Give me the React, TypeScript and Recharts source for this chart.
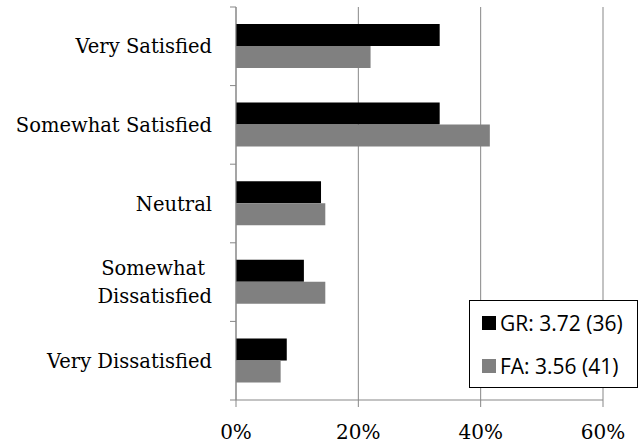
import React from 'react';
import { BarChart, Bar, XAxis, YAxis, CartesianGrid, Legend } from 'recharts';

const CATEGORIES = ['Very Satisfied', 'Somewhat Satisfied', 'Neutral', 'Somewhat\nDissatisfied', 'Very Dissatisfied'];
const GR_VALUES = [33.3, 33.3, 13.9, 11.1, 8.3];
const FA_VALUES = [22.0, 41.5, 14.6, 14.6, 7.3];
const X_TICKS = [0, 20, 40, 60];
const SERIES = [
  { key: 'gr', name: 'GR: 3.72 (36)', color: '#000000' },
  { key: 'fa', name: 'FA: 3.56 (41)', color: '#808080' },
];

const chartData = CATEGORIES.map((name, i) => ({ name, gr: GR_VALUES[i], fa: FA_VALUES[i] }));

const AXIS_COLOR = '#878787';
const Y_TICK_SIZE = 6;
const Y_TICK_MARGIN = 18;
const LABEL_FONT = '"DejaVu Serif", serif';

// category label + Excel-style tick marks between categories
const CategoryTick = (props: any) => {
  const { x, y, payload, index } = props;
  const axisX = x + Y_TICK_SIZE + Y_TICK_MARGIN;
  const half = payload.offset || 0;
  const lines = String(payload.value).split('\n');
  const isLast = index === CATEGORIES.length - 1;
  return (
    <g>
      <line x1={axisX - Y_TICK_SIZE} x2={axisX} y1={y - half} y2={y - half} stroke={AXIS_COLOR} />
      {isLast && <line x1={axisX - Y_TICK_SIZE} x2={axisX} y1={y + half} y2={y + half} stroke={AXIS_COLOR} />}
      <text x={x} y={y} textAnchor="end" fontFamily={LABEL_FONT} fontSize={19.5} fill="#000">
        {lines.length === 1 ? (
          <tspan x={x} dy={7}>{lines[0]}</tspan>
        ) : (
          lines.map((l, i) => (
            <tspan key={i} x={i === 0 ? x - 7 : x} dy={i === 0 ? -7 : 28}>{l}</tspan>
          ))
        )}
      </text>
    </g>
  );
};

// boxed legend, drawn in series order
const LegendBox = () => (
  <div
    style={{
      width: 169,
      height: 88,
      boxSizing: 'border-box',
      border: '1.5px solid #000',
      background: '#fff',
      fontFamily: '"Open Sans", sans-serif',
      fontSize: 21,
      paddingLeft: 12,
    }}
  >
    {SERIES.map((s) => (
      <div key={s.key} style={{ display: 'flex', alignItems: 'center', height: 43 }}>
        <span style={{ width: 14, height: 14, background: s.color, display: 'inline-block', marginRight: 4 }} />
        <span style={{ color: '#000', lineHeight: '20px', whiteSpace: 'nowrap' }}>{s.name}</span>
      </div>
    ))}
  </div>
);

export default function App() {
  return (
    <div style={{ position: 'absolute', left: 0, top: 0, background: '#fff' }}>
      <BarChart
        width={639}
        height={446}
        data={chartData}
        layout="vertical"
        margin={{ top: 7, right: 36, bottom: 0, left: 0 }}
        barGap={0}
      >
        <CartesianGrid horizontal={false} vertical stroke={AXIS_COLOR} />
        <XAxis
          type="number"
          domain={[0, 60]}
          ticks={X_TICKS}
          tickFormatter={(v: number) => `${v}%`}
          stroke={AXIS_COLOR}
          height={46}
          tickSize={7}
          tickMargin={18}
          tick={{ fill: '#000', fontFamily: LABEL_FONT, fontSize: 20 }}
          interval={0}
        />
        <YAxis
          type="category"
          dataKey="name"
          width={236}
          stroke={AXIS_COLOR}
          tickLine={false}
          tickSize={Y_TICK_SIZE}
          tickMargin={Y_TICK_MARGIN}
          tick={<CategoryTick />}
          interval={0}
        />
        <Legend
          layout="vertical"
          align="center"
          verticalAlign="middle"
          wrapperStyle={{ left: 469, top: 300, width: 169, height: 88 }}
          content={<LegendBox />}
        />
        {SERIES.map((s) => (
          <Bar key={s.key} dataKey={s.key} name={s.name} fill={s.color} barSize={22} isAnimationActive={false} />
        ))}
      </BarChart>
    </div>
  );
}
